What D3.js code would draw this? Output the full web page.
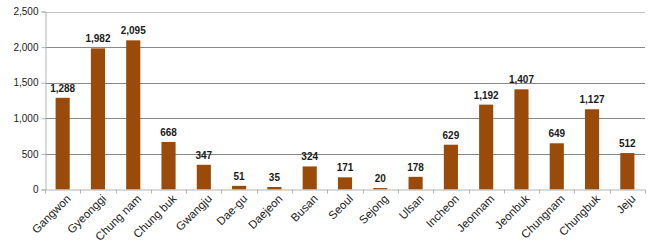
<!DOCTYPE html>
<html>
<head>
<meta charset="utf-8">
<script src="https://cdn.jsdelivr.net/npm/d3@7"></script>
<style>
  body { margin: 0; background: #fff; }
  text { font-family: "Liberation Sans", Arial, sans-serif; fill: #1a1a1a; }
</style>
</head>
<body>
<svg id="chart" width="654" height="245"></svg>
<script>
// regions and counts
var regions = ["Gangwon", "Gyeonggi", "Chung nam", "Chung buk", "Gwangju", "Dae-gu", "Daejeon",
               "Busan", "Seoul", "Sejong", "Ulsan", "Incheon", "Jeonnam", "Jeonbuk",
               "Chungnam", "Chungbuk", "Jeju"];
var counts = [1288, 1982, 2095, 668, 347, 51, 35, 324, 171, 20, 178, 629, 1192, 1407, 649, 1127, 512];
var yTicks = [0, 500, 1000, 1500, 2000, 2500];

var svg = d3.select("#chart"),
    plotLeft = 45, plotRight = 645, plotTop = 11.5, plotBottom = 189.5;

var x = d3.scaleBand().domain(regions).range([plotLeft, plotRight]).paddingInner(0.6).paddingOuter(0.3);
var y = d3.scaleLinear().domain([0, 2500]).range([plotBottom, plotTop]);
var fmt = d3.format(",");

// gridlines
svg.append("g").selectAll("line")
   .data(yTicks.slice(1))
   .enter().append("line")
     .attr("x1", plotLeft).attr("x2", plotRight)
     .attr("y1", function(d) { return Math.round(y(d)) + 0.5; })
     .attr("y2", function(d) { return Math.round(y(d)) + 0.5; })
     .attr("stroke", function(d) { return d == 2500 ? "#c4c4c4" : "#888"; });

// y axis
var yAxis = svg.append("g")
   .attr("transform", "translate(" + (plotLeft + 0.5) + ",0)")
   .call(d3.axisLeft(y).tickValues(yTicks).tickFormat(fmt).tickSize(4).tickPadding(3));
yAxis.select(".domain").attr("stroke", "#b4b4b4");
yAxis.selectAll(".tick line").attr("stroke", "#b4b4b4");
yAxis.selectAll(".tick text").attr("font-size", 10).attr("fill", "#1a1a1a").style("font-family", "Liberation Sans, Arial, sans-serif");

// bars
svg.append("g").selectAll("rect")
   .data(counts)
   .enter().append("rect")
     .attr("x", function(d, i) { return x(regions[i]); })
     .attr("width", x.bandwidth())
     .attr("y", function(d) { return y(d); })
     .attr("height", function(d) { return plotBottom - y(d); })
     .attr("fill", "#9a4a09");

// value labels
svg.append("g").selectAll("text")
   .data(counts)
   .enter().append("text")
     .attr("x", function(d, i) { return x(regions[i]) + x.bandwidth() / 2; })
     .attr("y", function(d) { return y(d) - 6; })
     .attr("text-anchor", "middle")
     .attr("font-size", 10)
     .attr("font-weight", "bold")
     .text(function(d) { return fmt(d); });

// x axis line + ticks at band edges
var edges = d3.range(regions.length + 1).map(function(i) { return plotLeft + i * (plotRight - plotLeft) / regions.length; });
svg.append("line")
   .attr("x1", plotLeft).attr("x2", plotRight)
   .attr("y1", plotBottom + 0.5).attr("y2", plotBottom + 0.5)
   .attr("stroke", "#b4b4b4");
svg.append("g").selectAll("line")
   .data(edges)
   .enter().append("line")
     .attr("x1", function(d) { return Math.round(d) + 0.5; })
     .attr("x2", function(d) { return Math.round(d) + 0.5; })
     .attr("y1", plotBottom).attr("y2", plotBottom + 4)
     .attr("stroke", "#b4b4b4");

// x labels
svg.append("g").selectAll("text")
   .data(regions)
   .enter().append("text")
     .attr("transform", function(d) {
        return "translate(" + (x(d) + x.bandwidth() / 2 + 6) + "," + (plotBottom + 7) + ") rotate(-45)";
     })
     .attr("text-anchor", "end")
     .attr("dy", "0.35em")
     .attr("font-size", 11.5)
     .text(function(d) { return d; });
</script>
</body>
</html>
